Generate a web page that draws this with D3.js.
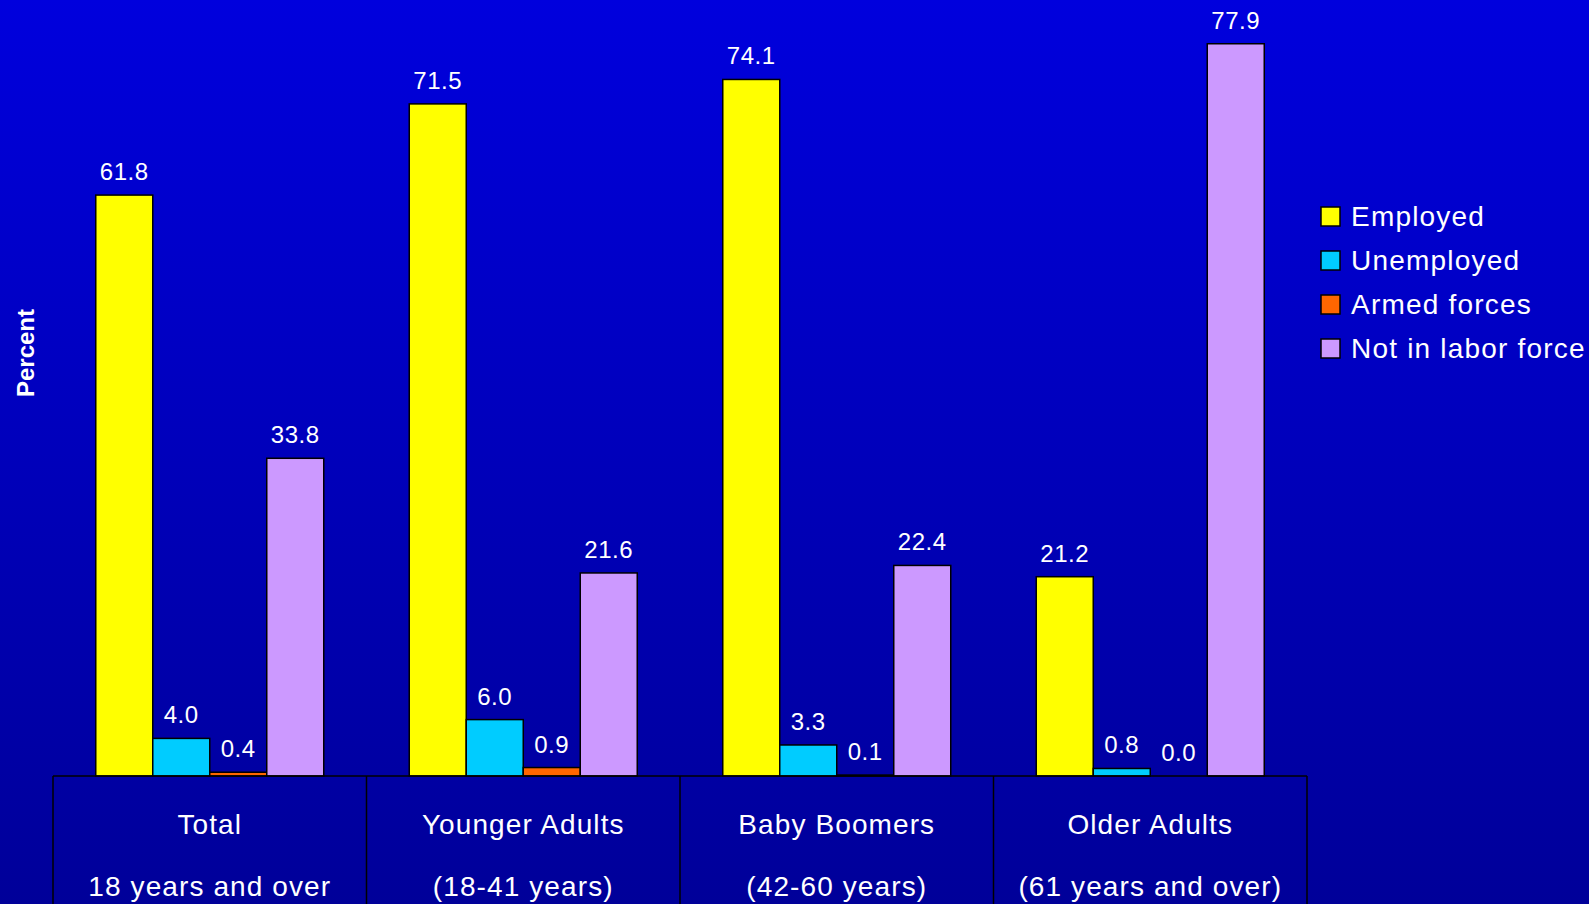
<!DOCTYPE html>
<html>
<head>
<meta charset="utf-8">
<script src="https://cdn.jsdelivr.net/npm/d3@7"></script>
<style>
html,body{margin:0;padding:0;overflow:hidden;background:#000099;}
svg{display:block;}
text{font-family:"Liberation Sans",Arial,sans-serif;fill:#fff;}
</style>
</head>
<body>
<svg id="chart" width="1589" height="904"></svg>
<script>
const categories = ["Total", "Younger Adults", "Baby Boomers", "Older Adults"];
const subLabels = ["18 years and over", "(18-41 years)", "(42-60 years)", "(61 years and over)"];
const seriesNames = ["Employed", "Unemployed", "Armed forces", "Not in labor force"];
const employed = [61.8, 71.5, 74.1, 21.2];
const unemployed = [4.0, 6.0, 3.3, 0.8];
const armedForces = [0.4, 0.9, 0.1, 0.0];
const notInLaborForce = [33.8, 21.6, 22.4, 77.9];
const seriesColors = ["#FFFF00", "#00CCFF", "#FF6600", "#CC99FF"];

const seriesValues = [employed, unemployed, armedForces, notInLaborForce];

const svg = d3.select("#chart");
const W = 1589, H = 904;

const defs = svg.append("defs");
const grad = defs.append("linearGradient").attr("id", "bg").attr("x1", 0).attr("y1", 0).attr("x2", 0).attr("y2", 1);
grad.append("stop").attr("offset", "0%").attr("stop-color", "#0000DD");
grad.append("stop").attr("offset", "100%").attr("stop-color", "#000099");
svg.append("rect").attr("width", W).attr("height", H).attr("fill", "url(#bg)");

const x0 = d3.scaleBand().domain(categories).range([53, 1307]).paddingInner(0).paddingOuter(0);
const x1 = d3.scaleBand().domain(seriesNames).range([0, x0.bandwidth()]).paddingInner(0).paddingOuter(0.75);
const y = d3.scaleLinear().domain([0, 80]).range([776, 24]);

const data = [];
categories.forEach((c, i) => {
  seriesNames.forEach((s, j) => {
    data.push({cat: c, series: s, value: seriesValues[j][i], color: seriesColors[j]});
  });
});

const g = svg.append("g");
g.selectAll("rect.bar").data(data).join("rect")
  .attr("class", "bar")
  .attr("x", d => x0(d.cat) + x1(d.series))
  .attr("y", d => y(d.value))
  .attr("width", x1.bandwidth())
  .attr("height", d => y(0) - y(d.value))
  .attr("fill", d => d.color)
  .attr("stroke", "#000")
  .attr("stroke-width", 1.5);

g.selectAll("text.val").data(data).join("text")
  .attr("class", "val")
  .attr("x", d => x0(d.cat) + x1(d.series) + x1.bandwidth() / 2)
  .attr("y", d => y(d.value) - 15)
  .attr("text-anchor", "middle")
  .attr("font-size", 24)
  .attr("letter-spacing", 0.6)
  .text(d => d3.format(".1f")(d.value));

// category table
const tbl = svg.append("g");
tbl.append("line").attr("x1", x0.range()[0]).attr("x2", x0.range()[1])
  .attr("y1", y(0)).attr("y2", y(0)).attr("stroke", "#000").attr("stroke-width", 1.5);
const edges = categories.map(c => x0(c)).concat([x0.range()[1]]);
tbl.selectAll("line.v").data(edges).join("line").attr("class", "v")
  .attr("x1", d => d).attr("x2", d => d).attr("y1", y(0)).attr("y2", H + 5)
  .attr("stroke", "#000").attr("stroke-width", 1.5);
tbl.selectAll("text.cat").data(categories).join("text").attr("class", "cat")
  .attr("x", d => x0(d) + x0.bandwidth() / 2).attr("y", 834)
  .attr("text-anchor", "middle").attr("font-size", 28).attr("letter-spacing", 1.1).text(d => d);
tbl.selectAll("text.sub").data(subLabels).join("text").attr("class", "sub")
  .attr("x", (d, i) => x0(categories[i]) + x0.bandwidth() / 2).attr("y", 896)
  .attr("text-anchor", "middle").attr("font-size", 28).attr("letter-spacing", 1.1).text(d => d);

// y label
svg.append("text").attr("transform", "translate(34,353) rotate(-90)")
  .attr("text-anchor", "middle").attr("font-size", 24).attr("font-weight", "bold").text("Percent");

// legend
const leg = svg.append("g");
const legItems = leg.selectAll("g").data(seriesNames).join("g")
  .attr("transform", (d, i) => `translate(1321, ${226 + i * 44})`);
legItems.append("rect").attr("x", 0).attr("y", -19).attr("width", 19).attr("height", 19)
  .attr("fill", (d, i) => seriesColors[i]).attr("stroke", "#000").attr("stroke-width", 1.5);
legItems.append("text").attr("x", 30).attr("y", 0).attr("font-size", 28).attr("letter-spacing", 1.2).text(d => d);
</script>
</body>
</html>
